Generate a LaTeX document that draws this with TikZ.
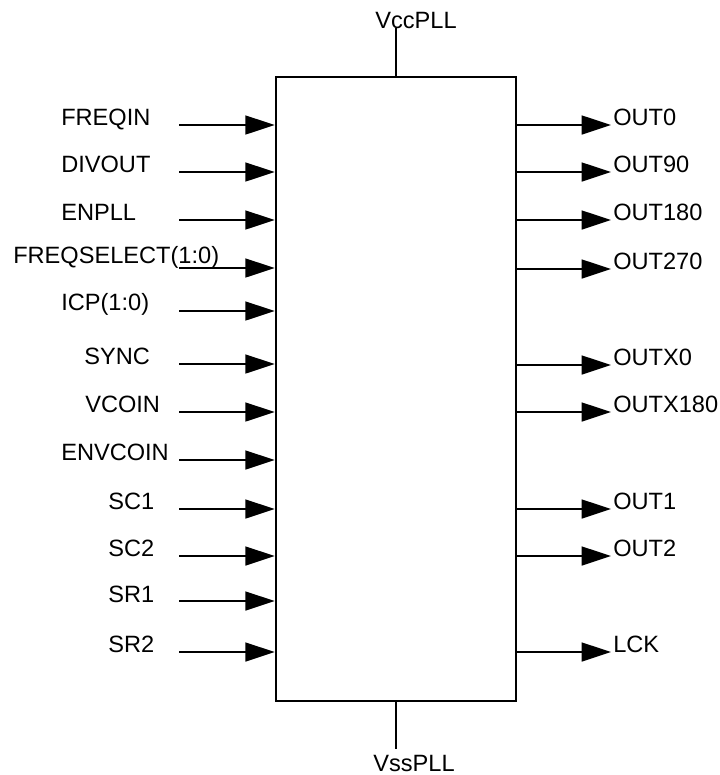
\documentclass[tikz,border=0pt]{standalone}
\usepackage{fontspec}
\setmainfont{Liberation Sans}
\usetikzlibrary{arrows.meta}
\begin{document}
\begin{tikzpicture}[x=0.75pt, y=-0.75pt]
\tikzset{
  sig/.style={line width=1.9pt, -{Triangle[length=22pt,width=14pt]}},
  wire/.style={line width=1.9pt},
  lbl/.style={anchor=base west, inner sep=0pt, font=\fontsize{17.7}{21}\selectfont},
  chip/.style={draw, line width=1.9pt, minimum width=180pt, minimum height=468pt, inner sep=0pt}
}
\useasboundingbox (0,0) rectangle (720,775);
\node[chip] (box) at (396,389) {};
% inputs
\foreach \y/\x/\t in {125/61/FREQIN, 172/61/DIVOUT, 220/61/ENPLL, 263/13/FREQSELECT(1:0), 310/61/ICP(1:0), 364/84/SYNC, 412/85/VCOIN, 460/61/ENVCOIN, 509/108/SC1, 556/108/SC2, 602/108/SR1, 652/108/SR2}{
  \node[lbl] (li\y) at (\x,\y) {\t};
}
\foreach \y in {125,172,220,268,311,364,412,460,509,556,601,652}{
  \coordinate (ls\y) at (179,\y);
  \draw[sig] (ls\y) -- (ls\y -| box.west);
}
% outputs
\foreach \y/\t in {125/OUT0, 172/OUT90, 220/OUT180, 269/OUT270, 365/OUTX0, 412/OUTX180, 509/OUT1, 556/OUT2, 652/LCK}{
  \coordinate (re\y) at (611,\y);
  \draw[sig] (re\y -| box.east) -- (re\y);
  \node[lbl] (ro\y) at (613,\y) {\t};
}
% supply pins
\coordinate (vcc) at (396,28);
\coordinate (vss) at (396,749);
\draw[wire] (box.north) -- (vcc);
\draw[wire] (box.south) -- (vss);
\node[lbl, anchor=base] (vcct) at (416,28) {VccPLL};
\node[lbl, anchor=base] (vsst) at (414,771) {VssPLL};
\end{tikzpicture}
\end{document}
